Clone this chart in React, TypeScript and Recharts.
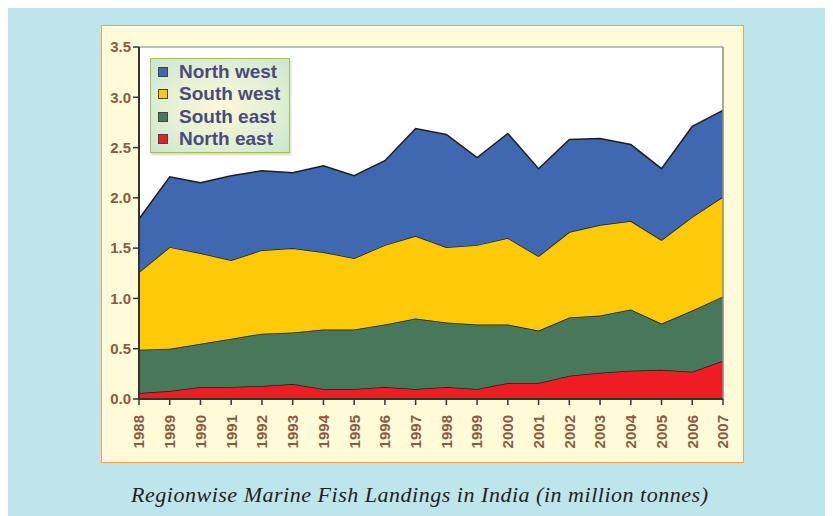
import React from "react";
import { AreaChart, Area, XAxis, YAxis, CartesianGrid, ReferenceLine } from "recharts";

const years = ["1988","1989","1990","1991","1992","1993","1994","1995","1996","1997","1998","1999","2000","2001","2002","2003","2004","2005","2006","2007"];
const northEast = [0.06,0.08,0.12,0.12,0.13,0.15,0.10,0.10,0.12,0.10,0.12,0.10,0.16,0.16,0.23,0.26,0.28,0.29,0.27,0.38];
const southEast = [0.43,0.42,0.43,0.48,0.52,0.51,0.59,0.59,0.62,0.70,0.64,0.64,0.58,0.52,0.58,0.57,0.61,0.46,0.61,0.64];
const southWest = [0.77,1.01,0.90,0.78,0.83,0.84,0.77,0.71,0.79,0.82,0.75,0.79,0.86,0.74,0.85,0.90,0.88,0.83,0.93,0.99];
const northWest = [0.53,0.70,0.70,0.84,0.79,0.75,0.86,0.82,0.84,1.07,1.12,0.87,1.04,0.87,0.92,0.86,0.76,0.71,0.90,0.86];
const yTicks = [0, 0.5, 1.0, 1.5, 2.0, 2.5, 3.0, 3.5];

const series = [
  { key: "ne", name: "North east", color: "#ee1c25", values: northEast },
  { key: "se", name: "South east", color: "#48775a", values: southEast },
  { key: "sw", name: "South west", color: "#fec909", values: southWest },
  { key: "nw", name: "North west", color: "#3f68b0", values: northWest },
];

const data = years.map((y, i) => {
  const row: any = { year: y };
  series.forEach((s) => (row[s.key] = s.values[i]));
  return row;
});

const labelColor = "#8a5a42";

const XTick = (props: any) => {
  const { x, y, payload } = props;
  return (
    <text
      x={x}
      y={y + 8}
      transform={`rotate(-90, ${x}, ${y + 8})`}
      textAnchor="end"
      dy="0.36em"
      fill={labelColor}
      fontFamily="Liberation Sans, Arial, sans-serif"
      fontWeight="bold"
      fontSize={15}
    >
      {payload.value}
    </text>
  );
};

const LegendBox = () => {
  const items = [...series].reverse();
  return (
    <div
      style={{
        position: "absolute",
        left: 142,
        top: 50,
        width: 140,
        height: 95,
        border: "1.5px solid #a9c04d",
        background: "radial-gradient(ellipse at 50% 50%, #fdf8d6 0%, #e3f0d4 55%, #c9e6d2 100%)",
        boxShadow: "1px 2px 2px rgba(120,140,120,0.35)",
        boxSizing: "border-box",
        paddingTop: 2,
      }}
    >
      {items.map((s) => (
        <div key={s.key} style={{ display: "flex", alignItems: "center", height: 22.3, paddingLeft: 7 }}>
          <div
            style={{
              width: 8,
              height: 8,
              background: s.color,
              border: "1.5px solid #444",
              marginRight: 11,
            }}
          />
          <span
            style={{
              fontFamily: "Liberation Sans, Arial, sans-serif",
              fontWeight: "bold",
              fontSize: 19,
              color: "#4b4a7c",
              lineHeight: "22px",
              whiteSpace: "nowrap",
            }}
          >
            {s.name}
          </span>
        </div>
      ))}
    </div>
  );
};

export default function App() {
  return (
    <div style={{ position: "relative", width: 825, height: 508, background: "#bfe5ec", overflow: "hidden" }}>
      <div
        style={{
          position: "absolute",
          left: 93,
          top: 17,
          width: 643,
          height: 438,
          background: "#fffad8",
          border: "1.5px solid #f5a053",
          boxSizing: "border-box",
        }}
      />
      <div style={{ position: "absolute", left: 0, top: 0 }}>
        <AreaChart width={825} height={508} data={data} margin={{ top: 39, right: 110, bottom: 0, left: 0 }}>
          <CartesianGrid fill="#ffffff" horizontal={false} vertical={false} stroke="none" />
          <ReferenceLine y={3.5} stroke="#a8a8a8" strokeWidth={1.5} />
          {series.map((s) => (
            <Area
              key={s.key}
              type="linear"
              dataKey={s.key}
              name={s.name}
              stackId="1"
              stroke="#1e1e1e"
              strokeWidth={1.5}
              fill={s.color}
              fillOpacity={1}
              isAnimationActive={false}
              dot={false}
              activeDot={false}
            />
          ))}
          <ReferenceLine x="2007" stroke="#8a8a8a" strokeWidth={1.5} />
          <XAxis
            dataKey="year"
            height={117}
            interval={0}
            tick={<XTick />}
            tickSize={6}
            axisLine={{ stroke: "#333", strokeWidth: 2 }}
            tickLine={{ stroke: "#333", strokeWidth: 1.5 }}
          />
          <YAxis
            width={131}
            domain={[0, 3.5]}
            ticks={yTicks}
            interval={0}
            tickFormatter={(v: number) => v.toFixed(1)}
            tickSize={6}
            tickMargin={2}
            tick={{ fill: labelColor, fontFamily: "Liberation Sans, Arial, sans-serif", fontWeight: "bold", fontSize: 15 }}
            axisLine={{ stroke: "#333", strokeWidth: 2 }}
            tickLine={{ stroke: "#333", strokeWidth: 1.5 }}
          />
        </AreaChart>
      </div>
      <LegendBox />
      <svg style={{ position: "absolute", left: 0, top: 460 }} width={825} height={48}>
        <text
          x={123}
          y={34}
          textLength={577}
          lengthAdjust="spacing"
          fontFamily="Liberation Serif, Times New Roman, serif"
          fontStyle="italic"
          fontSize={22}
          fill="#222"
        >
          Regionwise Marine Fish Landings in India (in million tonnes)
        </text>
      </svg>
    </div>
  );
}
